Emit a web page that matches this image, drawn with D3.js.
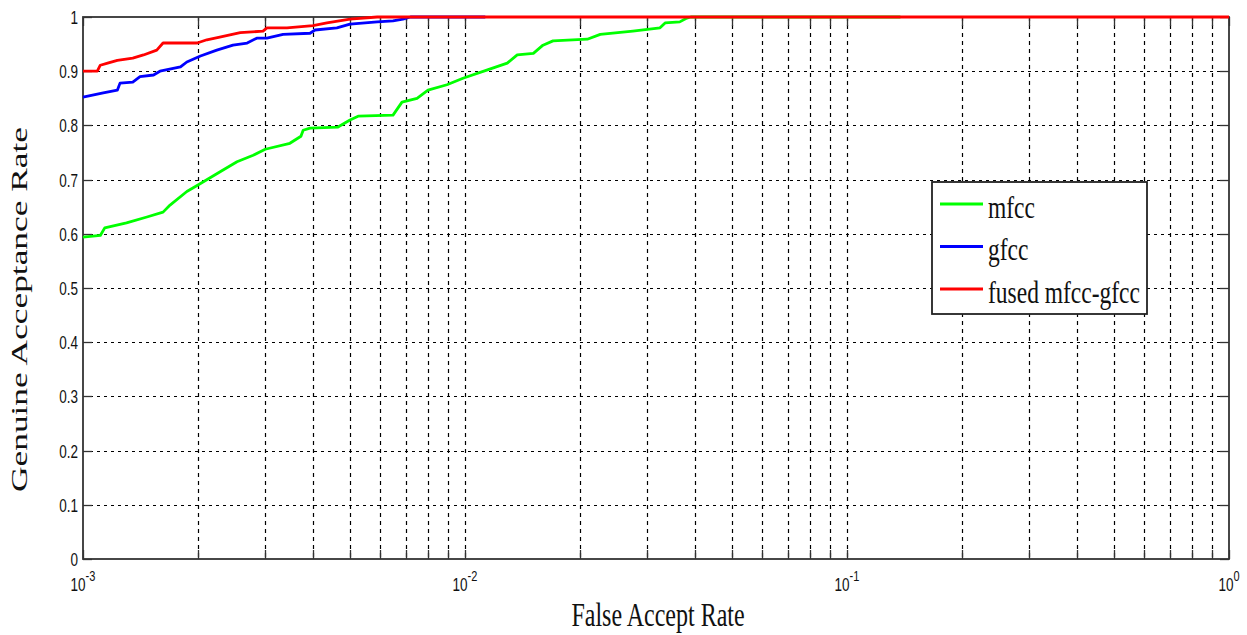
<!DOCTYPE html>
<html>
<head>
<meta charset="utf-8">
<script src="https://cdn.jsdelivr.net/npm/d3@7"></script>
<style>
  html, body { margin: 0; padding: 0; background: #fff; }
  svg { display: block; }
</style>
</head>
<body>
<svg id="chart" width="1247" height="635"></svg>
<script>
// ROC curves: false accept rate (log scale) vs genuine acceptance rate
const seriesNames = ["mfcc", "gfcc", "fused mfcc-gfcc"];
const seriesColors = ["#00ff00", "#0000ff", "#ff0000"];

const mfccFar = [0.001, 0.00111, 0.00114, 0.0013, 0.00147, 0.00162, 0.00169, 0.00187, 0.002, 0.00228, 0.00253, 0.00279, 0.003, 0.00348, 0.00372, 0.00377, 0.00393, 0.00465, 0.005, 0.00525, 0.00648, 0.00684, 0.00749, 0.008, 0.00897, 0.00988, 0.0114, 0.0129, 0.0137, 0.0151, 0.016, 0.017, 0.0209, 0.0226, 0.0275, 0.0324, 0.0334, 0.0365, 0.0381, 0.039, 0.138];
const mfccGar = [0.594, 0.597, 0.611, 0.62, 0.631, 0.64, 0.653, 0.678, 0.69, 0.714, 0.733, 0.745, 0.756, 0.767, 0.78, 0.791, 0.795, 0.797, 0.81, 0.817, 0.819, 0.843, 0.85, 0.865, 0.875, 0.887, 0.902, 0.915, 0.93, 0.933, 0.948, 0.956, 0.959, 0.968, 0.974, 0.98, 0.989, 0.991, 0.998, 1.0, 1.0];

const gfccFar = [0.001, 0.00113, 0.00123, 0.00125, 0.00135, 0.00141, 0.00153, 0.00159, 0.0018, 0.00187, 0.00203, 0.00224, 0.00247, 0.00269, 0.00285, 0.00303, 0.00334, 0.00393, 0.00405, 0.00462, 0.005, 0.00589, 0.00648, 0.00688, 0.0072, 0.0113];
const gfccGar = [0.852, 0.86, 0.865, 0.878, 0.88, 0.89, 0.893, 0.9, 0.908, 0.917, 0.928, 0.939, 0.948, 0.952, 0.961, 0.961, 0.968, 0.97, 0.976, 0.98, 0.987, 0.991, 0.993, 0.996, 1.0, 1.0];

const fusedFar = [0.001, 0.00109, 0.00111, 0.00116, 0.00123, 0.00135, 0.00144, 0.00156, 0.00162, 0.00199, 0.00211, 0.00228, 0.00258, 0.00296, 0.00303, 0.00342, 0.0040, 0.00435, 0.005, 0.00589, 1];
const fusedGar = [0.9, 0.9, 0.911, 0.915, 0.92, 0.924, 0.93, 0.939, 0.952, 0.952, 0.958, 0.963, 0.971, 0.974, 0.98, 0.98, 0.984, 0.989, 0.996, 1.0, 1.0];

const yTickValues = [0, 0.1, 0.2, 0.3, 0.4, 0.5, 0.6, 0.7, 0.8, 0.9, 1];
const yTickLabels = ["0", "0.1", "0.2", "0.3", "0.4", "0.5", "0.6", "0.7", "0.8", "0.9", "1"];
const xDecades = [0.001, 0.01, 0.1, 1];
const xDecadeExponents = ["-3", "-2", "-1", "0"];

const xTitle = "False Accept Rate";
const yTitle = "Genuine Acceptance Rate";

const series = [
  { far: mfccFar, gar: mfccGar },
  { far: gfccFar, gar: gfccGar },
  { far: fusedFar, gar: fusedGar }
].map((s, i) => ({
  name: seriesNames[i],
  color: seriesColors[i],
  points: s.far.map((f, j) => [f, s.gar[j]])
}));

const svg = d3.select("#chart");
const plot = { left: 83, top: 17, right: 1229, bottom: 559 };
const stretch = 1.4; // text is drawn taller than wide

const x = d3.scaleLog().domain([0.001, 1]).range([plot.left, plot.right]);
const y = d3.scaleLinear().domain([0, 1]).range([plot.bottom, plot.top]);

// minor log ticks 2..9 per decade
const xMinor = [];
for (let d = 0; d < 3; d++) {
  for (let k = 2; k <= 9; k++) xMinor.push(xDecades[d] * k);
}
const xGrid = xMinor.concat(xDecades.slice(1, 3));

const g = svg.append("g");

// grid lines
g.append("g").selectAll("line").data(xGrid).join("line")
  .attr("x1", d => Math.round(x(d)) + 0.5).attr("x2", d => Math.round(x(d)) + 0.5)
  .attr("y1", plot.top).attr("y2", plot.bottom)
  .attr("stroke", "#000").attr("stroke-width", 1.2)
  .attr("stroke-dasharray", "4,4");

g.append("g").selectAll("line").data(yTickValues.slice(1, -1)).join("line")
  .attr("x1", plot.left).attr("x2", plot.right)
  .attr("y1", d => Math.round(y(d)) + 0.5).attr("y2", d => Math.round(y(d)) + 0.5)
  .attr("stroke", "#000").attr("stroke-width", 1.2)
  .attr("stroke-dasharray", "3,4");

// inward tick marks on all four sides
const tickLen = 9;
const allXTicks = xMinor.concat(xDecades);
const tk = g.append("g").attr("stroke", "#333").attr("stroke-width", 1.3);
allXTicks.forEach(d => {
  const px = Math.round(x(d)) + 0.5;
  tk.append("line").attr("x1", px).attr("x2", px).attr("y1", plot.bottom).attr("y2", plot.bottom - tickLen);
  tk.append("line").attr("x1", px).attr("x2", px).attr("y1", plot.top).attr("y2", plot.top + tickLen);
});
yTickValues.forEach(d => {
  const py = Math.round(y(d)) + 0.5;
  tk.append("line").attr("x1", plot.left).attr("x2", plot.left + tickLen).attr("y1", py).attr("y2", py);
  tk.append("line").attr("x1", plot.right).attr("x2", plot.right - tickLen).attr("y1", py).attr("y2", py);
});

// frame
g.append("rect")
  .attr("x", plot.left).attr("y", plot.top)
  .attr("width", plot.right - plot.left).attr("height", plot.bottom - plot.top)
  .attr("fill", "none").attr("stroke", "#333").attr("stroke-width", 1.8);

// curves
const line = d3.line().x(d => x(d[0])).y(d => y(d[1])).curve(d3.curveLinear);
g.append("g").selectAll("path").data(series).join("path")
  .attr("d", d => line(d.points))
  .attr("fill", "none")
  .attr("stroke", d => d.color)
  .attr("stroke-width", 2.8)
  .attr("stroke-linejoin", "round");

// y tick labels
g.append("g").selectAll("text").data(yTickValues).join("text")
  .attr("transform", d => `translate(${plot.left - 5}, ${y(d) + 7}) scale(1, ${stretch})`)
  .attr("text-anchor", "end")
  .attr("font-family", "Liberation Sans, Arial, sans-serif")
  .attr("font-size", 13.5).attr("fill", "#111")
  .text((d, i) => yTickLabels[i]);

// x tick labels: 10 with superscript exponent
const xl = g.append("g").attr("font-family", "Liberation Sans, Arial, sans-serif").attr("fill", "#111");
xDecades.forEach((d, i) => {
  const t = xl.append("text")
    .attr("transform", `translate(${x(d)}, 591) scale(1, ${stretch})`)
    .attr("text-anchor", "middle")
    .attr("font-size", 13.5);
  t.append("tspan").text("10");
  t.append("tspan").attr("dy", -7).attr("font-size", 11).text(xDecadeExponents[i]);
});

// axis titles
svg.append("text")
  .attr("transform", `translate(${(plot.left + plot.right) / 2 + 2}, 626) scale(1, ${stretch})`)
  .attr("text-anchor", "middle")
  .attr("font-family", "Liberation Serif, Times New Roman, serif")
  .attr("font-size", 24).attr("fill", "#111")
  .text(xTitle);

svg.append("text")
  .attr("transform", "translate(27, 309.5) rotate(-90)")
  .attr("text-anchor", "middle")
  .attr("font-family", "Liberation Serif, Times New Roman, serif")
  .attr("font-size", 23).attr("fill", "#111")
  .attr("textLength", 365).attr("lengthAdjust", "spacingAndGlyphs")
  .text(yTitle);

// legend
const lg = svg.append("g");
const lx = 932, ly = 182, lw = 215, lh = 132;
lg.append("rect").attr("x", lx).attr("y", ly).attr("width", lw).attr("height", lh)
  .attr("fill", "#fff").attr("stroke", "#222").attr("stroke-width", 1.8);
series.forEach((s, i) => {
  const cy = ly + 22 + i * 42.5;
  lg.append("line").attr("x1", lx + 8).attr("x2", lx + 51).attr("y1", cy).attr("y2", cy)
    .attr("stroke", s.color).attr("stroke-width", 2.8);
  lg.append("text")
    .attr("transform", `translate(${lx + 56}, ${cy + 13.5}) scale(1, 1.3)`)
    .attr("font-family", "Liberation Serif, Times New Roman, serif")
    .attr("font-size", 23.5).attr("fill", "#111")
    .text(s.name);
});
</script>
</body>
</html>
